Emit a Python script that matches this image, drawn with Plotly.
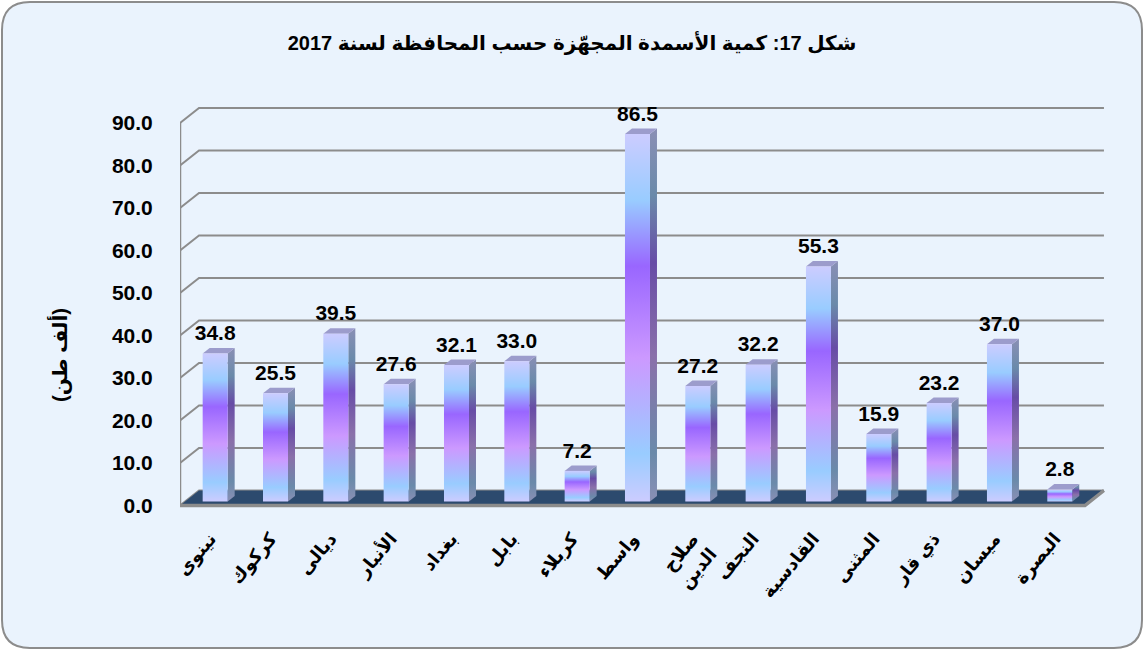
import plotly.graph_objects as go

# ---------------- data ----------------
title_text = "شكل 17: كمية الأسمدة المجهّزة حسب المحافظة لسنة 2017"
y_title = "(ألف طن)"
provinces = ["نينوى", "كركوك", "ديالى", "الأنبار", "بغداد", "بابل", "كربلاء", "واسط",
             "صلاح<br>الدين", "النجف", "القادسية", "المثنى", "ذي قار", "ميسان", "البصرة"]
values = [34.8, 25.5, 39.5, 27.6, 32.1, 33.0, 7.2, 86.5, 27.2, 32.2, 55.3, 15.9, 23.2, 37.0, 2.8]
y_ticks = [0, 10, 20, 30, 40, 50, 60, 70, 80, 90]

# ---------------- geometry (pixels -> axis units) ----------------
W, H = 1144, 650
L, R, T, B = 180, 1110, 100, 512
PX_X = 60.33
PX_Y = 4.25
Y0_PX = 505.5
x_range = [-0.5, -0.5 + (R - L) / PX_X]
y_range = [-(B - Y0_PX) / PX_Y, (Y0_PX - T) / PX_Y]
WALL_DX, WALL_DY = 19 / PX_X, 15 / PX_Y
BAR_SX, BAR_SY = 5 / PX_X, 4 / PX_Y
BAR_W = 25 / PX_X
BAR_DX, BAR_DY = 7 / PX_X, 5.5 / PX_Y
n = len(provinces)
x_left, x_right = -0.5, n - 0.5

FONT = "Arial, 'DejaVu Sans', sans-serif"
GRID = "#8C8C8C"

front_scale = [[0, "#CCCCFF"], [0.13, "#99CCFF"], [0.39, "#CC99FF"],
               [0.64, "#9966FF"], [0.82, "#99CCFF"], [1, "#CCCCFF"]]
side_scale = [[0, "#8A8FB5"], [0.13, "#6A8AAA"], [0.39, "#8A70AA"],
              [0.64, "#674CA6"], [0.82, "#6A8AAA"], [1, "#8A8FB5"]]
TOP_COLOR = "#9C9CCC"

fig = go.Figure()

# back-wall gridlines with left diagonals
gx, gy = [], []
for k in y_ticks:
    gx += [x_left, x_left + WALL_DX, x_right + WALL_DX, None]
    gy += [k, k + WALL_DY, k + WALL_DY, None]
fig.add_trace(go.Scatter(x=gx, y=gy, mode="lines", line=dict(color=GRID, width=2),
                         hoverinfo="skip", showlegend=False))
# left wall vertical line
fig.add_trace(go.Scatter(x=[x_left, x_left], y=[0, y_ticks[-1]], mode="lines",
                         line=dict(color=GRID, width=2.5), hoverinfo="skip", showlegend=False))
# floor
fig.add_trace(go.Scatter(x=[x_left, x_right, x_right + WALL_DX, x_left + WALL_DX, x_left],
                         y=[0, 0, WALL_DY, WALL_DY, 0], mode="lines", fill="toself",
                         fillcolor="#2C4A6E", line=dict(width=0, color="#2C4A6E"),
                         hoverinfo="skip", showlegend=False))
fig.add_trace(go.Scatter(x=[x_left, x_right, x_right + WALL_DX], y=[0, 0, WALL_DY], mode="lines",
                         line=dict(color=GRID, width=3.5), hoverinfo="skip", showlegend=False))

# 3D bars
for i, v in enumerate(values):
    cx = i + BAR_SX
    xl, xr = cx - BAR_W / 2, cx + BAR_W / 2
    yb, yt = BAR_SY, BAR_SY + v
    # side face
    fig.add_trace(go.Scatter(x=[xr, xr + BAR_DX, xr + BAR_DX, xr, xr],
                             y=[yb, yb + BAR_DY, yt + BAR_DY, yt, yb],
                             mode="lines", fill="toself", line=dict(width=0),
                             fillgradient=dict(type="vertical", colorscale=side_scale,
                                               start=yb, stop=yt + BAR_DY),
                             hoverinfo="skip", showlegend=False))
    # top face
    fig.add_trace(go.Scatter(x=[xl, xl + BAR_DX, xr + BAR_DX, xr, xl],
                             y=[yt, yt + BAR_DY, yt + BAR_DY, yt, yt],
                             mode="lines", fill="toself", fillcolor=TOP_COLOR, line=dict(width=0),
                             hoverinfo="skip", showlegend=False))
    # front face
    fig.add_trace(go.Scatter(x=[xl, xr, xr, xl, xl], y=[yb, yb, yt, yt, yb],
                             mode="lines", fill="toself", line=dict(width=0),
                             fillgradient=dict(type="vertical", colorscale=front_scale,
                                               start=yb, stop=yt),
                             hoverinfo="skip", showlegend=False))

# value labels
fig.add_trace(go.Scatter(x=[i + BAR_SX for i in range(n)],
                         y=[v + BAR_SY + BAR_DY + 0.6 for v in values],
                         mode="text", text=[f"{v:.1f}" for v in values],
                         textposition="top center",
                         textfont=dict(family=FONT, size=21, color="#000000", weight="bold"),
                         hoverinfo="skip", showlegend=False, cliponaxis=False))

# rounded border (pixel -> paper)
def px(xp):
    return (xp - L) / (R - L)

def py(yp):
    return (B - yp) / (B - T)

x0, y0, x1, y1, r = 2, 2, 1142, 648, 28
path = (f"M {px(x0 + r)} {py(y0)} L {px(x1 - r)} {py(y0)} Q {px(x1)} {py(y0)} {px(x1)} {py(y0 + r)} "
        f"L {px(x1)} {py(y1 - r)} Q {px(x1)} {py(y1)} {px(x1 - r)} {py(y1)} "
        f"L {px(x0 + r)} {py(y1)} Q {px(x0)} {py(y1)} {px(x0)} {py(y1 - r)} "
        f"L {px(x0)} {py(y0 + r)} Q {px(x0)} {py(y0)} {px(x0 + r)} {py(y0)} Z")

fig.update_layout(
    width=W, height=H,
    margin=dict(l=L, r=W - R, t=T, b=H - B, autoexpand=False),
    paper_bgcolor="#FFFFFF", plot_bgcolor="rgba(0,0,0,0)",
    title=dict(text=title_text, x=0.5, xref="container", xanchor="center",
               y=1 - 43 / H, yref="container", yanchor="middle",
               font=dict(family=FONT, size=20, color="#000000", weight="bold")),
    shapes=[dict(type="path", xref="paper", yref="paper", path=path,
                 fillcolor="#EAF3FD", line=dict(color="#8C8C8C", width=2), layer="below")],
    annotations=[dict(text=y_title, x=px(44), y=py(355), xref="paper", yref="paper",
                      textangle=-90, showarrow=False,
                      font=dict(family=FONT, size=20, color="#000000", weight="bold"))],
    xaxis=dict(range=x_range, tickmode="array", tickvals=list(range(n)), ticktext=provinces,
               tickangle=-50, ticks="outside", ticklen=8, tickcolor="rgba(0,0,0,0)",
               showgrid=False, zeroline=False, showline=False, automargin=False,
               tickfont=dict(family=FONT, size=18, color="#000000", weight="bold"),
               fixedrange=True),
    yaxis=dict(range=y_range, tickmode="array", tickvals=y_ticks,
               ticktext=[f"{t:.1f}" for t in y_ticks],
               ticks="outside", ticklen=22, tickcolor="rgba(0,0,0,0)",
               showgrid=False, zeroline=False, showline=False, automargin=False,
               tickfont=dict(family=FONT, size=21, color="#000000", weight="bold"),
               fixedrange=True),
)

fig.write_html("out.html", config={"displayModeBar": False},
               post_script="document.body.style.margin='0';")
